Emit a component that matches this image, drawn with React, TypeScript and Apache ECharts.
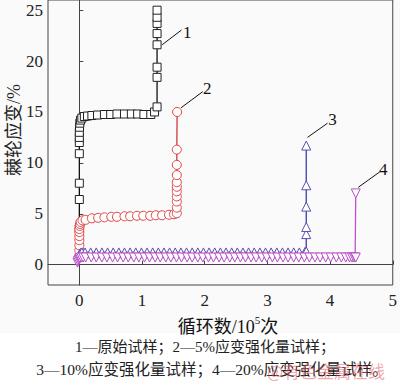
import { useEffect, useRef } from 'react';
import * as echarts from 'echarts';

// x: cycles (10^5), y: ratcheting strain (%)
const xTicks = [0, 1, 2, 3, 4, 5];
const yTicks = [0, 5, 10, 15, 20, 25];

const series1: [number, number][] = [
  [0, 3.5], [0, 6.4], [0, 8.0], [0, 10.9], [0, 12.0], [0, 12.5], [0, 13.0], [0.003, 13.5],
  [0.008, 13.9], [0.02, 14.2], [0.04, 14.4], [0.08, 14.55], [0.13, 14.6], [0.2, 14.65],
  [0.29, 14.7], [0.4, 14.75], [0.5, 14.75], [0.6, 14.8], [0.72, 14.8], [0.83, 14.8],
  [0.93, 14.8], [1.03, 14.75], [1.14, 14.75], [1.2, 15.0], [1.24, 15.5], [1.24, 18.4],
  [1.24, 19.4], [1.24, 21.6], [1.24, 22.7], [1.24, 23.7], [1.24, 24.3], [1.24, 25.0],
];

const series2: [number, number][] = [
  [0, 1.4], [0, 1.9], [0, 2.4], [0, 2.8], [0, 3.2], [0, 3.5], [0.005, 3.8], [0.01, 4.0],
  [0.02, 4.2], [0.05, 4.35], [0.1, 4.4], [0.2, 4.55], [0.3, 4.6], [0.4, 4.65], [0.51, 4.7],
  [0.6, 4.7], [0.72, 4.75], [0.81, 4.75], [0.92, 4.8], [1.02, 4.8], [1.13, 4.8], [1.22, 4.85],
  [1.32, 4.85], [1.43, 4.9], [1.51, 4.95], [1.555, 5.05], [1.555, 5.6], [1.555, 6.2],
  [1.555, 6.7], [1.555, 7.2], [1.555, 7.65], [1.555, 8.1], [1.555, 8.8], [1.555, 9.8],
  [1.555, 11.3], [1.56, 15.0],
];

const series3: [number, number][] = [
  [0, 0.8], [0.005, 1.0], [0.01, 1.1], [0.02, 1.15], [0.04, 1.2], [0.09, 1.2], [0.18, 1.2],
  [0.27, 1.2], [0.36, 1.2], [0.45, 1.2], [0.54, 1.2], [0.63, 1.2], [0.72, 1.2], [0.81, 1.2],
  [0.9, 1.2], [0.99, 1.2], [1.08, 1.2], [1.17, 1.2], [1.26, 1.2], [1.35, 1.2], [1.44, 1.2],
  [1.53, 1.2], [1.62, 1.2], [1.71, 1.2], [1.8, 1.2], [1.89, 1.2], [1.98, 1.2], [2.07, 1.2],
  [2.16, 1.2], [2.25, 1.2], [2.34, 1.2], [2.43, 1.2], [2.52, 1.2], [2.61, 1.2], [2.7, 1.2],
  [2.79, 1.2], [2.88, 1.2], [2.97, 1.2], [3.06, 1.2], [3.15, 1.2], [3.24, 1.2], [3.33, 1.2],
  [3.42, 1.2], [3.51, 1.2], [3.6, 1.25], [3.62, 1.3], [3.62, 3.0], [3.62, 3.7], [3.62, 5.7],
  [3.62, 7.8], [3.62, 11.7],
];

const series4: [number, number][] = [
  [-0.03, 0.2], [-0.02, 0.35], [-0.01, 0.5], [0, 0.6], [0.01, 0.65], [0.03, 0.7], [0.06, 0.7],
  [0.1, 0.7], [0.19, 0.7], [0.27, 0.7], [0.36, 0.7], [0.44, 0.7], [0.53, 0.7], [0.61, 0.7],
  [0.7, 0.7], [0.78, 0.7], [0.87, 0.7], [0.95, 0.7], [1.04, 0.7], [1.12, 0.7], [1.21, 0.7],
  [1.29, 0.7], [1.38, 0.7], [1.46, 0.7], [1.55, 0.7], [1.63, 0.7], [1.72, 0.7], [1.8, 0.7],
  [1.89, 0.7], [1.97, 0.7], [2.06, 0.7], [2.14, 0.7], [2.23, 0.7], [2.31, 0.7], [2.4, 0.7],
  [2.48, 0.7], [2.57, 0.7], [2.65, 0.7], [2.74, 0.7], [2.82, 0.7], [2.91, 0.7], [2.99, 0.7],
  [3.08, 0.7], [3.16, 0.7], [3.25, 0.7], [3.33, 0.7], [3.42, 0.7], [3.5, 0.7], [3.59, 0.7],
  [3.67, 0.7], [3.76, 0.7], [3.84, 0.7], [3.93, 0.7], [4.01, 0.7], [4.1, 0.7], [4.18, 0.7],
  [4.25, 0.7], [4.31, 0.7], [4.35, 0.7], [4.38, 0.7], [4.4, 0.7], [4.41, 0.7], [4.41, 7.0],
];

const curveLabels = ['1', '2', '3', '4'];
const leaderStart: [number, number][] = [[1.32, 21.6], [1.62, 15.4], [3.64, 12.5], [4.45, 7.6]];
const leaderEnd: [number, number][] = [[1.63, 23.05], [1.97, 17.0], [3.96, 13.9], [4.79, 9.1]];
const labelPos: [number, number][] = [[1.72, 22.85], [2.04, 17.35], [4.04, 14.25], [4.85, 9.3]];

const yName = '棘轮应变/%';
const captionLine1 = '1—原始试样；2—5%应变强化量试样；';
const captionLine2 = '3—10%应变强化量试样；4—20%应变强化量试样。';
const watermark = '@有色金属在线';

const SERIF = '"Liberation Serif", "Noto Sans CJK SC", serif';

export default function App() {
  const ref = useRef<HTMLDivElement>(null);
  useEffect(() => {
    const chart = echarts.init(ref.current!, null, { renderer: 'svg' });
    const axisCommon = {
      type: 'value',
      axisLine: { show: true, lineStyle: { color: '#444', width: 1 } },
      axisTick: { show: true, inside: true, length: 4, lineStyle: { color: '#444' } },
      splitLine: { show: false },
      axisLabel: { fontFamily: SERIF, fontSize: 17, color: '#222' },
    };
    const mk = (
      data: [number, number][],
      line: string,
      sym: string,
      symColor: string,
      size: number,
      rotate = 0,
    ) => ({
      type: 'line',
      data,
      symbol: sym,
      symbolSize: size,
      symbolRotate: rotate,
      showAllSymbol: true,
      lineStyle: { color: line, width: 1.3 },
      itemStyle: { color: '#fff', borderColor: symColor, borderWidth: 1 },
      emphasis: { disabled: true },
      z: 2,
    });
    chart.setOption({
      animation: false,
      backgroundColor: '#fafafa',
      grid: { left: 48, right: 4, top: 0, bottom: 100, show: true, borderColor: '#444', borderWidth: 1, backgroundColor: 'transparent' },
      xAxis: {
        ...axisCommon,
        min: -0.5,
        max: 5,
        axisTick: { ...axisCommon.axisTick, customValues: xTicks },
        axisLabel: { ...axisCommon.axisLabel, customValues: xTicks, margin: 7 },
      },
      yAxis: {
        ...axisCommon,
        min: -2,
        max: 26,
        axisTick: { ...axisCommon.axisTick, customValues: yTicks },
        axisLabel: { ...axisCommon.axisLabel, customValues: yTicks, margin: 5 },
      },
      series: [
        mk(series1, '#111', 'rect', '#222', 8),
        mk(series2, '#c83a3a', 'circle', '#d44', 9),
        mk(series3, '#3a3aa8', 'triangle', '#5a50b0', 9),
        mk(series4, '#c050d0', 'triangle', '#b850c8', 9, 180),
      ],
    });

    const graphics: any[] = [
      { type: 'rect', z: -10, shape: { x: 0, y: 333, width: 400, height: 52 }, style: { fill: '#ffffff' } },
      {
        type: 'text', x: 14, y: 130, rotation: Math.PI / 2,
        style: { text: yName, fontFamily: SERIF, fontSize: 18, fill: '#222', align: 'center', verticalAlign: 'middle' },
      },
      {
        type: 'text', x: 228, y: 325,
        style: {
          text: '{a|循环数/10}{s|5}{a|次}',
          align: 'center', verticalAlign: 'middle',
          rich: {
            a: { fontFamily: SERIF, fontSize: 18, fill: '#111', lineHeight: 22, verticalAlign: 'bottom' },
            s: { fontFamily: SERIF, fontSize: 11, fill: '#111', lineHeight: 22, verticalAlign: 'top' },
          },
        },
      },
      {
        type: 'text', x: 205, y: 347,
        style: { text: captionLine1, fontFamily: SERIF, fontSize: 15, fill: '#222', align: 'center', verticalAlign: 'middle' },
      },
      {
        type: 'text', x: 212, y: 369,
        style: { text: captionLine2, fontFamily: SERIF, fontSize: 15.5, fill: '#222', align: 'center', verticalAlign: 'middle' },
      },
      {
        type: 'text', x: 326, y: 370, z: 50,
        style: { text: watermark, fontFamily: '"Noto Sans CJK SC", sans-serif', fontSize: 17, fill: 'rgba(225,90,100,0.55)', align: 'center', verticalAlign: 'middle' },
      },
    ];
    curveLabels.forEach((t, i) => {
      const a = chart.convertToPixel({ gridIndex: 0 }, leaderStart[i]) as number[];
      const b = chart.convertToPixel({ gridIndex: 0 }, leaderEnd[i]) as number[];
      const c = chart.convertToPixel({ gridIndex: 0 }, labelPos[i]) as number[];
      graphics.push({ type: 'line', z: 20, shape: { x1: a[0], y1: a[1], x2: b[0], y2: b[1] }, style: { stroke: '#111', lineWidth: 1 } });
      graphics.push({
        type: 'text', z: 20, x: c[0], y: c[1],
        style: { text: t, fontFamily: SERIF, fontSize: 17, fill: '#111', align: 'center', verticalAlign: 'middle' },
      });
    });
    chart.setOption({ graphic: graphics });
    return () => chart.dispose();
  }, []);
  return <div ref={ref} style={{ position: 'fixed', left: 0, top: 0, width: 400, height: 385 }} />;
}
